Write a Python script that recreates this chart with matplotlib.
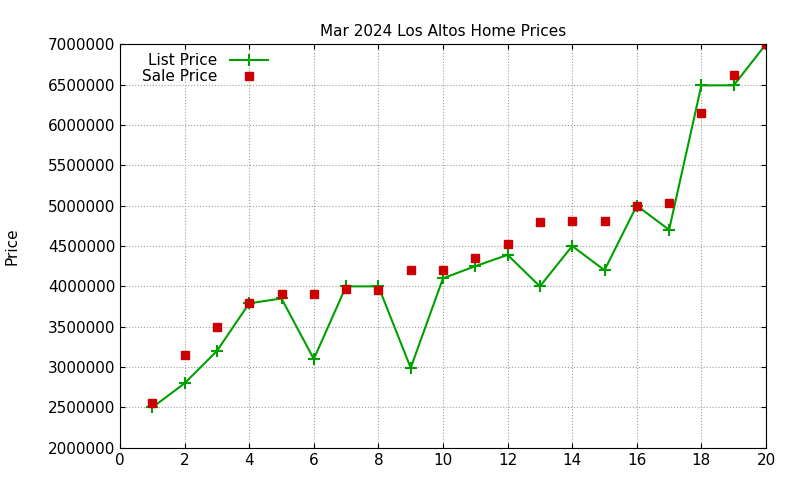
import matplotlib
matplotlib.use("Agg")
import matplotlib.pyplot as plt

x = list(range(1, 21))
list_price = [2500000, 2800000, 3200000, 3790000, 3850000, 3100000, 4000000, 4000000, 2990000, 4100000,
              4250000, 4390000, 4000000, 4500000, 4200000, 5000000, 4700000, 6490000, 6490000, 7000000]
sale_price = [2550000, 3150000, 3500000, 3800000, 3900000, 3900000, 3970000, 3960000, 4200000, 4200000,
              4350000, 4530000, 4800000, 4810000, 4810000, 5000000, 5030000, 6150000, 6620000, 7000000]

fig = plt.figure(figsize=(8, 4.8), dpi=100)
ax = fig.add_axes([0.15, 0.067, 0.8075, 0.841])
ax.plot(x, list_price, color="#00a000", marker="+", markersize=8, mew=1.5, lw=1.5, label="List Price")
ax.plot(x, sale_price, color="#cc0000", marker="s", markersize=6, ls="none", label="Sale Price")
ax.set_xlim(0, 20)
ax.set_ylim(2000000, 7000000)
ax.set_xticks(range(0, 21, 2))
ax.set_yticks(range(2000000, 7000001, 500000))
ax.ticklabel_format(style="plain", axis="y")
ax.grid(True, color="#a0a0a0", ls=":", lw=0.8)
ax.tick_params(direction="in", labelsize=11, top=True, right=True)
ax.set_ylabel("Price", fontsize=11, labelpad=20)
ax.set_title("Mar 2024 Los Altos Home Prices", fontsize=11)
ax.legend(loc="upper left", markerfirst=False, frameon=False, fontsize=11,
          handlelength=2.5, borderpad=0.1, labelspacing=0.05, bbox_to_anchor=(0.02, 1.0))
fig.savefig("out.png")
